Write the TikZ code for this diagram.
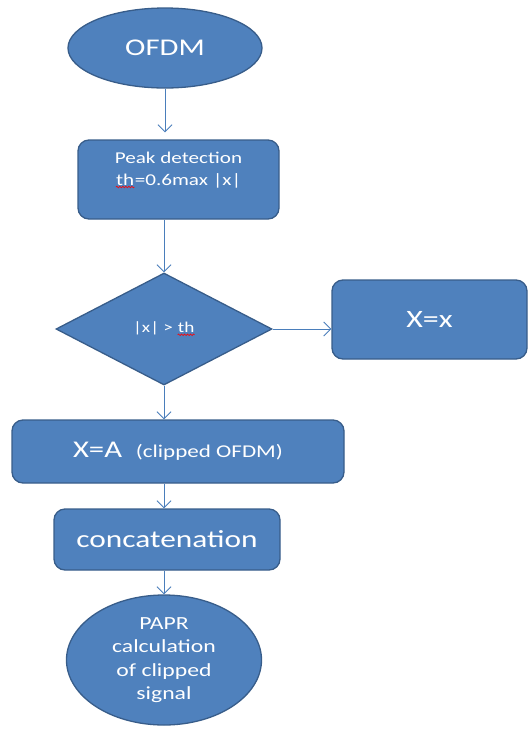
\documentclass[tikz,border=0pt]{standalone}
\usepackage{fontspec}
\setmainfont{Carlito}[FakeStretch=1.28]
\usetikzlibrary{shapes.geometric,arrows.meta,decorations.pathmorphing}

\definecolor{boxfill}{HTML}{4F81BD}
\definecolor{boxline}{HTML}{385D8A}
\definecolor{flowline}{HTML}{4A7EBB}

% spell-check style wavy underline
\newcommand\wavyword[1]{\tikz[baseline=(w.base),x=1pt,y=1pt,sharp corners]{%
  \node[rectangle,draw=none,fill=none,inner sep=0pt,minimum width=0pt,minimum height=0pt,text=white](w){#1};
  \draw[red,line width=0.6pt,decorate,decoration={snake,amplitude=0.8pt,segment length=3pt}]
    ([yshift=-1.5pt]w.south west)--([yshift=-1.5pt]w.south east);}}

\tikzset{
  shapebase/.style={fill=boxfill,draw=boxline,line width=1.3pt,text=white,align=center,inner sep=2pt},
  termnode/.style={shapebase,ellipse},
  procbox/.style={shapebase,rectangle,rounded corners=11pt},
  decbox/.style={shapebase,diamond,aspect=1.93,inner sep=0pt},
  flow/.style={draw=flowline,line width=0.9pt,-{Straight Barb[length=7pt,width=14pt,line width=0.9pt]}},
}

\begin{document}
\begin{tikzpicture}[x=1pt,y=-1pt]
\useasboundingbox (0,0) rectangle (528,729);

\node[termnode,minimum width=194pt,minimum height=80pt,font=\fontsize{24}{26}\selectfont] (ofdm) at (165,48) {OFDM};

\node[procbox,minimum width=201pt,minimum height=79pt,font=\fontsize{16.5}{22}\selectfont] (peak) at (178.5,179.5)
  {Peak detection\\\wavyword{th}=0.6max |x|\\\mbox{}};

\node[decbox,minimum width=216pt,minimum height=112pt,font=\fontsize{15}{17}\selectfont] (dec) at (164,329)
  {|x| > \wavyword{th}};

\node[procbox,minimum width=195pt,minimum height=79pt,font=\fontsize{25}{28}\selectfont] (xx) at (429.5,319.5) {X=x};

\node[procbox,minimum width=332pt,minimum height=63pt,font=\fontsize{24}{27}\selectfont] (xa) at (178,451.5)
  {X=A\ \ {\fontsize{18}{20}\selectfont(clipped OFDM)}};

\node[procbox,minimum width=226pt,minimum height=61pt,font=\fontsize{24.5}{27}\selectfont] (conc) at (167,539.5) {concatenation};

\node[termnode,minimum width=195pt,minimum height=130pt,font=\fontsize{18.5}{23.5}\selectfont] (papr) at (164,660)
  {PAPR\\calculation\\of clipped\\signal};

\draw[flow,shorten >=7pt] (ofdm.south) -- (ofdm.south |- peak.north);
\draw[flow] (peak.south -| dec.north) -- (dec.north);
\draw[flow] (dec.east) -- (dec.east -| xx.west);
\draw[flow] (dec.south) -- (dec.south |- xa.north);
\draw[flow] (xa.south -| dec.south) -- (conc.north -| dec.south);
\draw[flow] (conc.south -| dec.south) -- (papr.north -| dec.south);
\end{tikzpicture}
\end{document}
